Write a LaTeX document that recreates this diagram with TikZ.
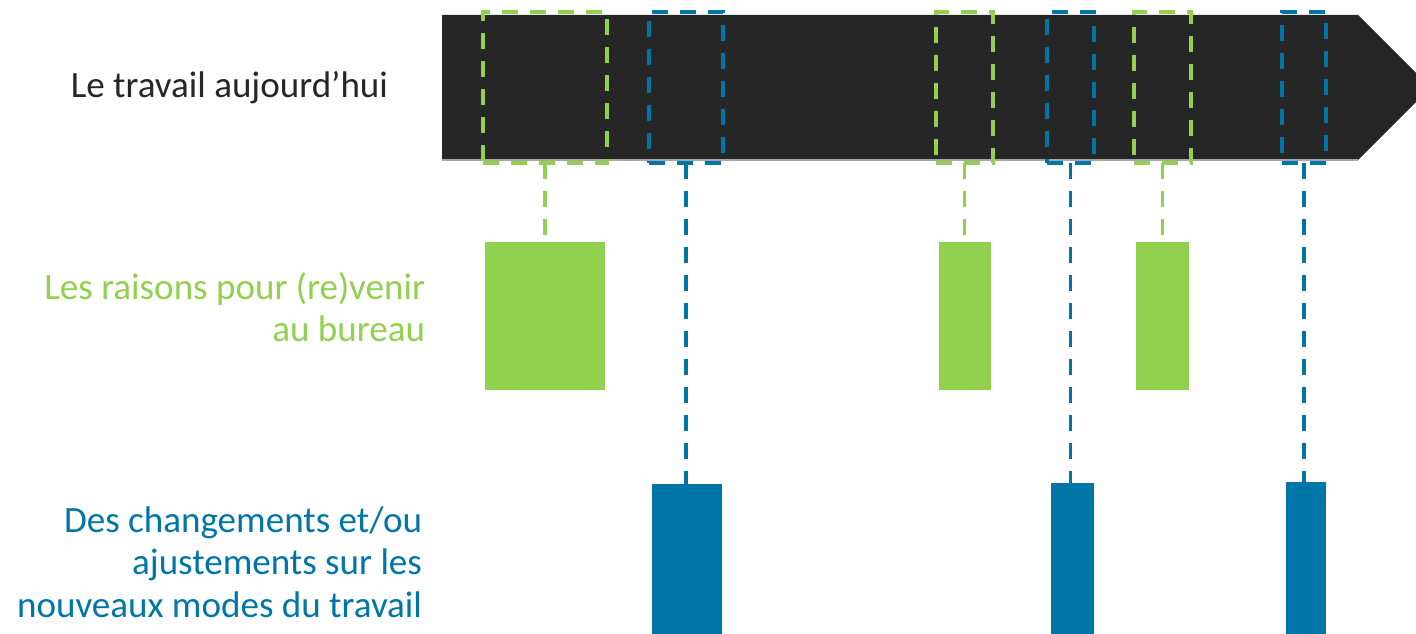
\documentclass[tikz,border=0pt]{standalone}
\usepackage{fontspec}
\setmainfont{Carlito}
\definecolor{barc}{HTML}{262626}
\definecolor{gr}{HTML}{92D050}
\definecolor{bl}{HTML}{0076A8}
\definecolor{txt}{HTML}{262626}
\newcommand\rbox[6]{\node[#2,anchor=north west,minimum width={(#5-#3)*0.75pt},minimum height={(#6-#4)*0.75pt}] (#1) at (#3,#4) {};}
\begin{document}
\begin{tikzpicture}[x=0.75pt,y=-0.75pt,
  every node/.style={inner sep=0pt,outer sep=0pt},
  gbox/.style={draw=gr,line width=2.7pt,dash pattern=on 12pt off 9pt},
  bbox/.style={draw=bl,line width=2.7pt,dash pattern=on 12pt off 9pt},
  gconn/.style={draw=gr,line width=2.3pt,dash pattern=on 12pt off 9pt},
  bconn/.style={draw=bl,line width=2.3pt,dash pattern=on 12pt off 9pt},
  gfill/.style={fill=gr},
  bfill/.style={fill=bl},
  lbl/.style={font=\fontsize{27.8}{31.8}\selectfont,align=right,anchor=east}]
\clip (0,0) rectangle (1416,634);
\fill[white] (0,0) rectangle (1416,634);
% timeline bar
\fill[barc] (442,15) -- (1358,15) -- (1430.5,87.5) -- (1358,160) -- (442,160) -- cycle;
\draw[gray!70,line width=0.8pt] (442,160) -- (1358,160);
% labels
\node[lbl,text=txt] (t1) at (388,88) {Le travail aujourd’hui};
\node[lbl,text=gr] (t2) at (425,307) {Les raisons pour (re)venir\\au bureau};
\node[lbl,text=bl] (t3) at (422,562) {Des changements et/ou\\ajustements sur les\\nouveaux modes du travail};
% filled rectangles
\rbox{rg1}{gfill}{485}{242}{605}{390}
\rbox{rg2}{gfill}{939}{242}{991}{390}
\rbox{rg3}{gfill}{1136}{242}{1189}{390}
\rbox{rb1}{bfill}{652}{484}{722}{645}
\rbox{rb2}{bfill}{1051}{483}{1094}{645}
\rbox{rb3}{bfill}{1286}{482}{1326}{645}
% dashed boxes
\rbox{g1}{gbox}{483}{12}{607}{163}
\rbox{b1}{bbox}{649}{12}{723}{163}
\rbox{g2}{gbox}{936}{12}{993}{163}
\rbox{b2}{bbox}{1047}{12}{1094}{163}
\rbox{g3}{gbox}{1134}{12}{1191}{163}
\rbox{b3}{bbox}{1282}{12}{1326}{163}
% connectors
\draw[gconn] (g1.south) -- (g1.south |- rg1.north);
\draw[gconn] (g2.south) -- (g2.south |- rg2.north);
\draw[gconn] (g3.south) -- (g3.south |- rg3.north);
\draw[bconn] (b1.south) -- (b1.south |- rb1.north);
\draw[bconn] (b2.south) -- (b2.south |- rb2.north);
\draw[bconn] (b3.south) -- (b3.south |- rb3.north);
\end{tikzpicture}
\end{document}
